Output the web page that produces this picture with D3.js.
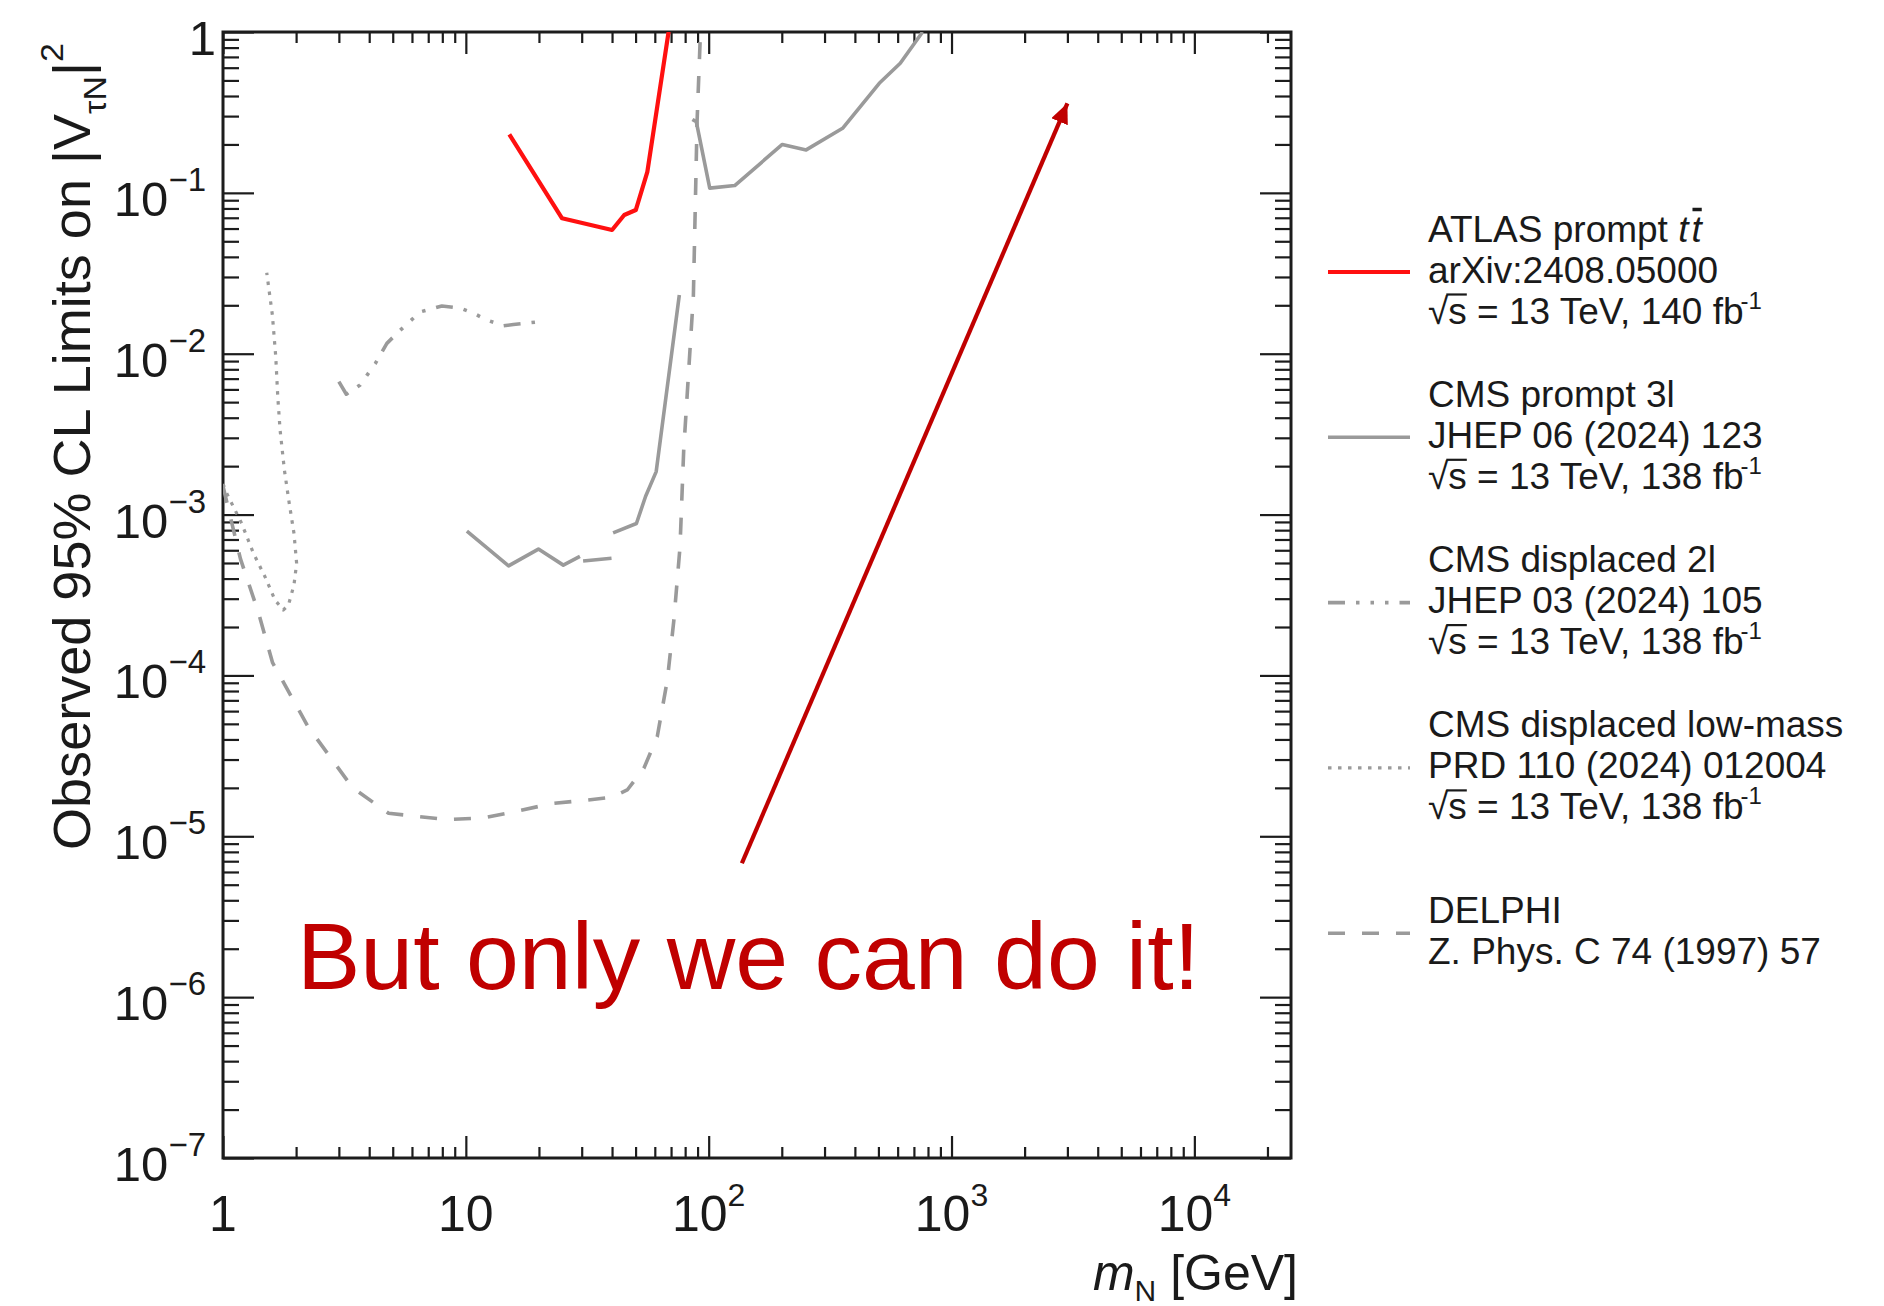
<!DOCTYPE html>
<html>
<head>
<meta charset="utf-8">
<script src="https://cdn.jsdelivr.net/npm/d3@7"></script>
<style>
  body { margin: 0; background: #fff; }
  svg text { font-family: "Liberation Sans", Arial, Helvetica, sans-serif; fill: #1a1a1a; }
</style>
</head>
<body>
<svg id="chart" width="1884" height="1306"></svg>
<script>
// ---------------------------------------------------------------------------
// Observed 95% CL upper limits on |V_tauN|^2 versus heavy neutral lepton mass
// (mass in GeV; null marks a break between separate curve pieces)
// ---------------------------------------------------------------------------
const atlasMass  = [15.1, 24.9, 40.0, 44.9, 50.1, 55.9, 68.5];
const atlasLimit = [0.231, 0.0695, 0.0588, 0.0728, 0.0782, 0.135, 1.02];

const cms3lMass  = [10.1, 15.0, 19.9, 25.2, 29.5, 29.9,
                    30.4, 39.8, 40.1,
                    40.4, 50.4, 55.0, 60.8, 75.7, 80.0,
                    85.7, 88.9, 101, 128, 201, 252, 356, 504, 615, 760];
const cms3lLimit = [7.9e-4, 4.8e-4, 6.1e-4, 4.85e-4, 5.5e-4, null,
                    5.15e-4, 5.35e-4, null,
                    7.7e-4, 8.8e-4, 1.3e-3, 1.85e-3, 0.0232, null,
                    0.286, 0.277, 0.107, 0.111, 0.200, 0.185, 0.252, 0.48, 0.64, 1.0];

const cms2lMass  = [3.0, 3.22, 3.67, 4.24, 4.73, 5.37, 6.49, 7.97, 9.49, 10.8, 12.2, 14.3, 15.7, 20.0];
const cms2lLimit = [6.7e-3, 5.6e-3, 6.4e-3, 8.7e-3, 0.0116, 0.0140, 0.0182, 0.0198, 0.0192, 0.0178, 0.0162, 0.0149, 0.0152, 0.0158];

const lowMassMass  = [1.0, 1.035, 1.194, 1.334, 1.49, 1.638, 1.77, 1.86, 1.96, 2.01, 1.96, 1.87, 1.79, 1.718, 1.681, 1.649, 1.597, 1.514];
const lowMassLimit = [1.55e-3, 1.36e-3, 8.8e-4, 5.75e-4, 4.1e-4, 2.94e-4, 2.55e-4, 2.74e-4, 3.65e-4, 4.98e-4, 7.65e-4, 1.2e-3, 1.89e-3, 3.36e-3, 5.4e-3, 9.6e-3, 0.0174, 0.0319];

const delphiMass  = [1.0, 1.18, 1.4, 1.6, 2.24, 3.42, 4.81, 8.34, 11.8, 16.5, 22.7, 31.6, 40.0, 46.2, 54.1, 61.4, 67.6, 71.9, 76.2, 78.9, 86.5, 89.6, 92.5];
const delphiLimit = [1.5e-3, 5.3e-4, 2.45e-4, 1.2e-4, 4.8e-5, 2.0e-5, 1.39e-5, 1.27e-5, 1.30e-5, 1.44e-5, 1.60e-5, 1.68e-5, 1.75e-5, 1.94e-5, 2.65e-5, 4.16e-5, 9.4e-5, 2.21e-4, 6.3e-4, 2.5e-3, 0.023, 0.28, 1.0];

// axis ticks and labels
const xMajorTicks  = [1, 10, 100, 1000, 10000];
const xTickBase    = ["1", "10", "10", "10", "10"];
const xTickExp     = ["", "", "2", "3", "4"];
const yMajorTicks  = [1, 1e-1, 1e-2, 1e-3, 1e-4, 1e-5, 1e-6, 1e-7];
const yTickBase    = ["1", "10", "10", "10", "10", "10", "10", "10"];
const yTickExp     = ["", "\u22121", "\u22122", "\u22123", "\u22124", "\u22125", "\u22126", "\u22127"];

// legend entries
const legendTitle  = ["ATLAS prompt ", "CMS prompt 3l", "CMS displaced 2l", "CMS displaced low-mass", "DELPHI"];
const legendRef    = ["arXiv:2408.05000", "JHEP 06 (2024) 123", "JHEP 03 (2024) 105", "PRD 110 (2024) 012004", "Z. Phys. C 74 (1997) 57"];
const legendLumi   = ["140", "138", "138", "138", null];

// annotation: message and arrow (arrow ends in data units)
const noteText   = "But only we can do it!";
const arrowFrom  = [137, 6.8e-6];
const arrowTo    = [3000, 0.36];

// ---------------------------------------------------------------------------
const W = 1884, H = 1306;
const plot = { left: 223, right: 1291, top: 32, bottom: 1158 };

const x = d3.scaleLog().domain([1, 2.5e4]).range([plot.left, plot.right]);
const y = d3.scaleLog().domain([1e-7, 1]).range([plot.bottom, plot.top]);

const svg = d3.select("#chart");
svg.append("rect").attr("width", W).attr("height", H).attr("fill", "#fff");

// minor tick positions (2..9 times each power of ten inside the domains)
function minorTicks(lo, hi) {
  const out = [];
  for (let p = Math.floor(Math.log10(lo)); p <= Math.ceil(Math.log10(hi)); p++) {
    for (let j = 2; j <= 9; j++) {
      const v = j * Math.pow(10, p);
      if (v > lo && v < hi) out.push(v);
    }
  }
  return out;
}
const xMinor = minorTicks(1, 2.5e4);
const yMinor = minorTicks(1e-7, 1);

const tickColor = "#1c1c1c";
function drawAxis(gen, transform) {
  const g = svg.append("g").attr("transform", transform).call(gen);
  g.select(".domain").remove();
  g.selectAll(".tick line").attr("stroke", tickColor).attr("stroke-width", 2.2);
  g.selectAll(".tick text").remove();
  return g;
}
// bottom / top (ticks point into the frame)
drawAxis(d3.axisBottom(x).tickValues(xMajorTicks).tickSize(-22).tickFormat(""), `translate(0,${plot.bottom})`);
drawAxis(d3.axisBottom(x).tickValues(xMinor).tickSize(-11).tickFormat(""), `translate(0,${plot.bottom})`);
drawAxis(d3.axisTop(x).tickValues(xMajorTicks).tickSize(-22).tickFormat(""), `translate(0,${plot.top})`);
drawAxis(d3.axisTop(x).tickValues(xMinor).tickSize(-11).tickFormat(""), `translate(0,${plot.top})`);
// left / right
drawAxis(d3.axisLeft(y).tickValues(yMajorTicks).tickSize(-31).tickFormat(""), `translate(${plot.left},0)`);
drawAxis(d3.axisLeft(y).tickValues(yMinor).tickSize(-16).tickFormat(""), `translate(${plot.left},0)`);
drawAxis(d3.axisRight(y).tickValues(yMajorTicks).tickSize(-31).tickFormat(""), `translate(${plot.right},0)`);
drawAxis(d3.axisRight(y).tickValues(yMinor).tickSize(-16).tickFormat(""), `translate(${plot.right},0)`);

// frame
svg.append("rect")
  .attr("x", plot.left).attr("y", plot.top)
  .attr("width", plot.right - plot.left).attr("height", plot.bottom - plot.top)
  .attr("fill", "none").attr("stroke", tickColor).attr("stroke-width", 3);

// tick labels
const xLab = svg.append("g").selectAll("text").data(xMajorTicks).join("text")
  .attr("x", d => x(d)).attr("y", 1231)
  .attr("text-anchor", "middle").attr("font-size", 50);
xLab.append("tspan").text((d, i) => xTickBase[i]);
xLab.append("tspan").attr("font-size", 32).attr("dy", -25).text((d, i) => xTickExp[i]);

const yLab = svg.append("g").selectAll("text").data(yMajorTicks).join("text")
  .attr("x", (d, i) => yTickExp[i] ? 206 : 216)
  .attr("y", d => y(d) + 23)
  .attr("text-anchor", "end").attr("font-size", 49);
yLab.append("tspan").text((d, i) => yTickBase[i]);
yLab.append("tspan").attr("font-size", 33).attr("dy", -25).text((d, i) => yTickExp[i]);

// axis titles
const xt = svg.append("text").attr("x", 1298).attr("y", 1290)
  .attr("text-anchor", "end").attr("font-size", 50);
xt.append("tspan").attr("font-style", "italic").text("m");
xt.append("tspan").attr("font-size", 30).attr("dy", 11).text("N");
xt.append("tspan").attr("dy", -11).text(" [GeV]");

const yt = svg.append("text")
  .attr("transform", "translate(90,850) rotate(-90) scale(1.06,1)")
  .attr("text-anchor", "start").attr("font-size", 51);
yt.append("tspan").text("Observed 95% CL Limits on |V");
yt.append("tspan").attr("font-size", 32).attr("dy", 16).text("\u03c4N");
yt.append("tspan").attr("dy", -16).text("|");
yt.append("tspan").attr("font-size", 32).attr("dy", -27).text("2");

// data curves
svg.append("clipPath").attr("id", "plotClip").append("rect")
  .attr("x", plot.left).attr("y", plot.top)
  .attr("width", plot.right - plot.left).attr("height", plot.bottom - plot.top);

const line = d3.line()
  .defined(d => d[1] != null)
  .x(d => x(d[0])).y(d => y(d[1]));
const zip = (a, b) => a.map((v, i) => [v, b[i]]);

const curves = svg.append("g").attr("clip-path", "url(#plotClip)");
const gray = "#9a9a9a";
const styles = {
  delphi:  { stroke: gray, width: 3.6, dash: "17,17" },
  lowMass: { stroke: gray, width: 3.2, dash: "3.5,6.5" },
  cms2l:   { stroke: gray, width: 3.6, dash: "17,11,3.5,11,3.5,11,3.5,11" },
  cms3l:   { stroke: gray, width: 3.6, dash: null },
  atlas:   { stroke: "#ff1010", width: 4.2, dash: null }
};
function drawCurve(points, st) {
  curves.append("path").datum(points)
    .attr("d", line)
    .attr("fill", "none")
    .attr("stroke", st.stroke).attr("stroke-width", st.width)
    .attr("stroke-linejoin", "round")
    .attr("stroke-dasharray", st.dash);
}
drawCurve(zip(delphiMass, delphiLimit), styles.delphi);
drawCurve(zip(lowMassMass, lowMassLimit), styles.lowMass);
drawCurve(zip(cms2lMass, cms2lLimit), styles.cms2l);
drawCurve(zip(cms3lMass, cms3lLimit), styles.cms3l);
drawCurve(zip(atlasMass, atlasLimit), styles.atlas);

// bar drawn over one character of a text element
function overBar(textSel, charIndex, baseline, lift, width, extendLeft) {
  const box = textSel.node().getExtentOfChar(charIndex);
  svg.append("line")
    .attr("x1", box.x - extendLeft).attr("x2", box.x + box.width)
    .attr("y1", baseline - lift).attr("y2", baseline - lift)
    .attr("stroke", "#1a1a1a").attr("stroke-width", width);
}

// legend
const legendStyles = [styles.atlas, styles.cms3l, styles.cms2l, styles.lowMass, styles.delphi];
const legCenter0 = 272, legStep = 165.3, legLine = 41;
legendTitle.forEach((title, i) => {
  const cy = legCenter0 + i * legStep;
  const st = legendStyles[i];
  svg.append("line")
    .attr("x1", 1328).attr("x2", 1410).attr("y1", cy).attr("y2", cy)
    .attr("stroke", st.stroke).attr("stroke-width", st.width)
    .attr("stroke-dasharray", st.dash);

  const lines = legendLumi[i] ? 3 : 2;
  const base = k => cy + 10.5 + (k - (lines - 1) / 2) * legLine;
  const g = svg.append("g").attr("font-size", 37);

  const t0 = g.append("text").attr("x", 1428).attr("y", base(0));
  t0.append("tspan").text(title);
  if (i === 0) {
    t0.append("tspan").attr("font-style", "italic").text("t");
    t0.append("tspan").attr("font-style", "italic").attr("dx", 3).text("t");
    overBar(t0, title.length + 1, base(0), 32, 3.5, -1);
  }
  g.append("text").attr("x", 1428).attr("y", base(1)).text(legendRef[i]);
  if (legendLumi[i]) {
    const t2 = g.append("text").attr("x", 1428).attr("y", base(2));
    t2.append("tspan").text("\u221a");
    t2.append("tspan").text("s");
    t2.append("tspan").text(` = 13 TeV, ${legendLumi[i]} fb`);
    t2.append("tspan").attr("font-size", 24).attr("dy", -15).attr("dx", -3).text("-1");
    overBar(t2, 1, base(2), 29, 2.2, 2);
  }
});

// annotation
const noteColor = "#c00000";
svg.append("defs").append("marker")
  .attr("id", "arrowHead").attr("markerUnits", "userSpaceOnUse")
  .attr("markerWidth", 24).attr("markerHeight", 20)
  .attr("refX", 20).attr("refY", 9).attr("orient", "auto")
  .append("path").attr("d", "M0,0 L20,9 L0,18 Z").attr("fill", noteColor);

svg.append("line")
  .attr("x1", x(arrowFrom[0])).attr("y1", y(arrowFrom[1]))
  .attr("x2", x(arrowTo[0])).attr("y2", y(arrowTo[1]))
  .attr("stroke", noteColor).attr("stroke-width", 4.2)
  .attr("marker-end", "url(#arrowHead)");

svg.append("text")
  .attr("x", 297).attr("y", 989)
  .attr("font-size", 95)
  .style("fill", noteColor)
  .text(noteText);
</script>
</body>
</html>
